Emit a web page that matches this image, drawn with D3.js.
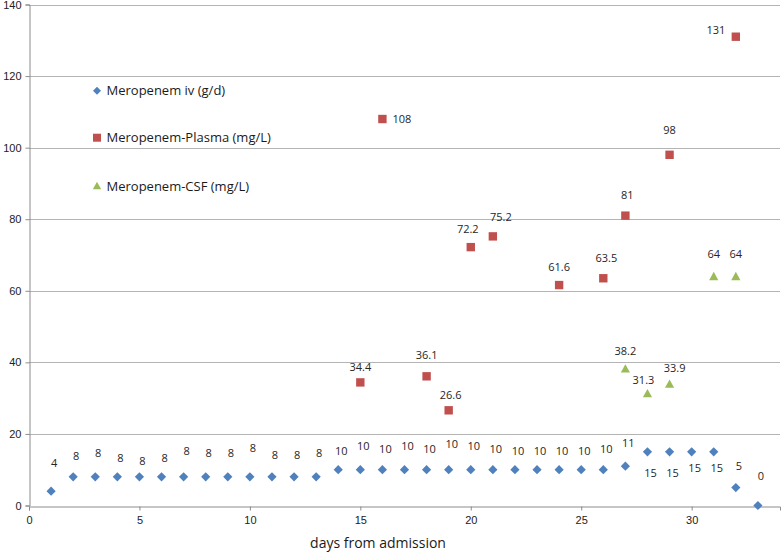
<!DOCTYPE html>
<html>
<head>
<meta charset="utf-8">
<script src="https://cdn.jsdelivr.net/npm/d3@7"></script>
<style>
  html, body { margin: 0; padding: 0; background: #fff; }
  svg { display: block; }
</style>
</head>
<body>
<svg id="chart" width="784" height="553"></svg>
<script>
// ---- data ----
const ivDays = [1,2,3,4,5,6,7,8,9,10,11,12,13,14,15,16,17,18,19,20,21,22,23,24,25,26,27,28,29,30,31,32,33];
const ivValues = [4,8,8,8,8,8,8,8,8,8,8,8,8,10,10,10,10,10,10,10,10,10,10,10,10,10,11,15,15,15,15,5,0];

const plasmaDays = [15,16,18,19,20,21,24,26,27,29,32];
const plasmaValues = [34.4,108,36.1,26.6,72.2,75.2,61.6,63.5,81,98,131];

const csfDays = [27,28,29,31,32];
const csfValues = [38.2,31.3,33.9,64,64];

const seriesNames = ["Meropenem iv (g/d)", "Meropenem-Plasma (mg/L)", "Meropenem-CSF (mg/L)"];
const xTicks = [0,5,10,15,20,25,30];
const yTicks = [0,20,40,60,80,100,120,140];
const xTitle = "days from admission";

// ---- label offsets (layout only, pixels relative to the point) ----
const ivLabelDy = [-28,-21,-24,-19,-16,-19,-26,-24,-24,-29,-22,-22,-24,-19,-24,-21,-24,-21,-26,-24,-21,-19,-19,-19,-19,-21,-23,21,21,16.5,16.5,-21,-29];
const plasmaLabelOff = [[0,-15],[10,0,"start"],[0,-21],[2,-15],[-3,-18],[8,-19],[0,-18],[3,-20],[2,-20],[0,-25],[-20,-7]];
const csfLabelOff = [[0,-18],[-4,-13.5],[5,-16.5],[0,-22],[0,-22]];

const colors = ["#4f81bd", "#c0504d", "#9bbb59"];
const labelFont = "'Open Sans', sans-serif";

const svg = d3.select("#chart");
const x = d3.scaleLinear().domain([0, 34]).range([29, 780]);
const y = d3.scaleLinear().domain([0, 140]).range([505.5, 4.5]);

// gridlines
svg.append("g")
  .selectAll("line")
  .data(yTicks.filter(d => d > 0))
  .join("line")
  .attr("x1", x(0)).attr("x2", x(34))
  .attr("y1", d => Math.round(y(d)) + 0.5).attr("y2", d => Math.round(y(d)) + 0.5)
  .attr("stroke", "#b4b4b4").attr("stroke-width", 1);

// axes
const yAxis = svg.append("g")
  .attr("transform", `translate(${x(0) + 0.5},0)`)
  .call(d3.axisLeft(y).tickValues(yTicks).tickSize(4).tickPadding(4).tickFormat(d3.format("d")));
const xAxis = svg.append("g")
  .attr("transform", `translate(0,${Math.round(y(0)) + 0.5})`)
  .call(d3.axisBottom(x).tickValues(xTicks).tickSize(4).tickPadding(6).tickFormat(d3.format("d")));
[xAxis, yAxis].forEach(g => {
  g.select(".domain").attr("stroke", "#8c8c8c");
  g.selectAll(".tick line").attr("stroke", "#8c8c8c");
  g.selectAll("text").attr("font-family", "'Liberation Sans', Arial, sans-serif").attr("font-size", 11).attr("fill", "#222");
});

// marker shapes
function diamond(s) { return `M0,${-s}L${s},0L0,${s}L${-s},0Z`; }
function square(s) { return `M${-s},${-s}H${s}V${s}H${-s}Z`; }
function triangle(s) { return `M0,${-s}L${s},${s*0.8}L${-s},${s*0.8}Z`; }

function drawSeries(days, vals, shape, size, color) {
  svg.append("g").selectAll("path")
    .data(days.map((d, i) => [d, vals[i]]))
    .join("path")
    .attr("transform", d => `translate(${x(d[0])},${y(d[1])})`)
    .attr("d", shape(size))
    .attr("fill", color);
}
drawSeries(ivDays, ivValues, diamond, 4.6, colors[0]);
drawSeries(plasmaDays, plasmaValues, square, 4.2, colors[1]);
drawSeries(csfDays, csfValues, triangle, 4.6, colors[2]);

// data labels
function drawLabels(days, vals, offs) {
  svg.append("g").selectAll("text")
    .data(days.map((d, i) => ({d, v: vals[i], o: offs[i]})))
    .join("text")
    .attr("x", e => x(e.d) + e.o[0])
    .attr("y", e => y(e.v) + e.o[1])
    .attr("dy", "0.35em")
    .attr("text-anchor", e => e.o[2] || "middle")
    .attr("font-family", labelFont)
    .attr("font-size", 11)
    .attr("fill", "#262626")
    .text(e => String(e.v));
}
drawLabels(ivDays, ivValues, ivLabelDy.map(dy => [3, dy]));
drawLabels(plasmaDays, plasmaValues, plasmaLabelOff);
drawLabels(csfDays, csfValues, csfLabelOff);

// legend
const legendY = [90.7, 137.7, 186];
const legendShapes = [[diamond, 4], [square, 4], [triangle, 4.2]];
const lg = svg.append("g");
seriesNames.forEach((name, i) => {
  lg.append("path")
    .attr("transform", `translate(97,${legendY[i]})`)
    .attr("d", legendShapes[i][0](legendShapes[i][1]))
    .attr("fill", colors[i]);
  lg.append("text")
    .attr("x", 106.5).attr("y", legendY[i]).attr("dy", "0.35em")
    .attr("font-family", labelFont).attr("font-size", 13)
    .attr("fill", "#1a1a1a")
    .text(name);
});

// axis title
svg.append("text")
  .attr("x", 378).attr("y", 543).attr("dy", "0.35em")
  .attr("text-anchor", "middle")
  .attr("font-family", labelFont).attr("font-size", 14)
  .attr("fill", "#1a1a1a")
  .text(xTitle);
</script>
</body>
</html>
